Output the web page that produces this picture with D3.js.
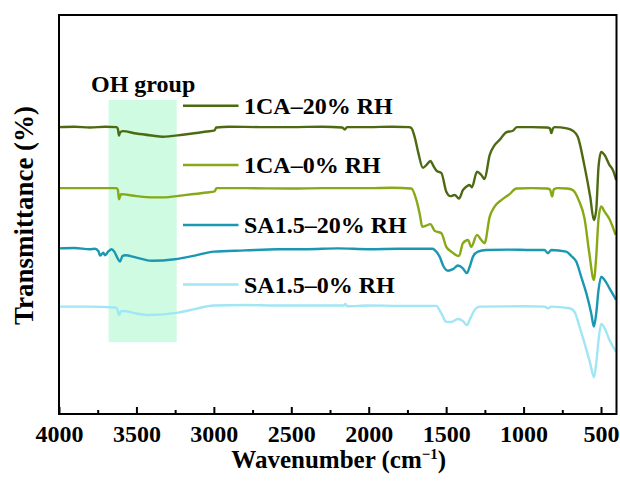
<!DOCTYPE html>
<html>
<head>
<meta charset="utf-8">
<script src="https://cdn.jsdelivr.net/npm/d3@7"></script>
<style>
  html, body { margin: 0; padding: 0; background: #fff; }
  svg { display: block; }
  text { font-family: "Liberation Serif", "Times New Roman", serif; font-weight: bold; fill: #000; }
</style>
</head>
<body>
<svg id="chart" width="620" height="482"></svg>
<script>
// ---------------- data ----------------
const seriesNames = ["1CA\u201320% RH", "1CA\u20130% RH", "SA1.5\u201320% RH", "SA1.5\u20130% RH"];
const seriesColors = ["#4d6a12", "#87a915", "#1a97b1", "#a0e6f4"];

const xMajorTicks = [4000, 3500, 3000, 2500, 2000, 1500, 1000, 500];
const xMinorTicks = [3750, 3250, 2750, 2250, 1750, 1250, 750];

const ohBand = [3680, 3240];      // wavenumber range of the OH group band
const ohBandT = [18, 78.7];       // vertical extent (transmittance units)

const s1 = [[4000,71.9],[3900,72.0],[3800,71.8],[3700,72.0],[3630,71.9],[3620,71.5],[3613,69.8],[3605,70.6],[3590,70.9],[3500,70.3],[3400,69.8],[3330,69.5],[3200,70.0],[3100,70.5],[3047,70.8],[2995,71.1],[2985,71.8],[2900,72.0],[2700,71.9],[2500,71.9],[2300,72.0],[2170,71.8],[2155,71.3],[2140,71.9],[2000,71.9],[1850,72.0],[1740,71.9],[1725,71.7],[1703,69.4],[1680,65.5],[1650,61.7],[1625,62.5],[1602,63.4],[1580,62.0],[1563,61.0],[1531,60.4],[1499,55.7],[1473,54.6],[1445,54.9],[1417,54.0],[1392,56.1],[1366,57.1],[1348,57.4],[1334,56.8],[1301,60.7],[1273,59.9],[1252,58.9],[1219,64.9],[1187,67.4],[1155,68.7],[1112,70.6],[1069,71.0],[1043,71.9],[950,71.9],[850,71.8],[830,71.6],[821,70.4],[810,71.6],[800,71.9],[720,71.6],[682,71.0],[650,69.5],[606,62.0],[570,54.5],[546,48.6],[531,51.1],[516,62.0],[499,65.7],[477,64.9],[445,62.4],[424,61.2],[402,58.6]];

const s2 = [[4000,56.6],[3800,56.6],[3630,56.6],[3620,56.2],[3613,53.8],[3600,55.1],[3500,54.6],[3400,54.3],[3330,54.3],[3200,54.8],[3047,55.5],[2995,55.8],[2983,56.6],[2800,56.6],[2500,56.5],[2300,56.6],[2000,56.6],[1850,56.7],[1725,56.5],[1692,53.6],[1670,50.0],[1654,46.9],[1630,47.2],[1602,47.6],[1574,45.9],[1531,45.3],[1499,41.9],[1467,40.7],[1417,39.6],[1392,42.8],[1359,43.6],[1338,41.9],[1301,44.9],[1273,43.6],[1252,42.8],[1219,49.4],[1187,52.0],[1144,53.6],[1090,55.1],[1047,56.5],[950,56.6],[850,56.5],[830,56.3],[815,54.5],[805,56.3],[780,56.6],[720,56.5],[682,56.1],[644,53.6],[606,48.9],[576,40.4],[546,33.6],[531,39.4],[516,48.9],[499,52.0],[477,50.7],[445,48.8],[406,44.9]];

const s3 = [[4000,41.5],[3900,41.6],[3800,41.3],[3768,41.4],[3745,40.8],[3735,39.7],[3714,40.4],[3703,39.8],[3680,40.8],[3660,41.3],[3643,40.7],[3621,39.0],[3606,38.2],[3590,39.6],[3574,39.8],[3500,39.2],[3402,38.4],[3252,38.8],[3123,39.7],[3000,40.7],[2800,41.0],[2587,41.3],[2400,41.3],[2200,41.5],[2000,41.3],[1800,41.4],[1590,41.4],[1574,41.1],[1542,39.4],[1516,36.9],[1488,35.9],[1456,36.3],[1424,37.2],[1392,36.5],[1366,35.3],[1348,36.9],[1327,39.4],[1295,40.7],[1241,41.1],[1100,41.2],[950,41.1],[865,41.1],[843,40.3],[821,41.1],[725,40.7],[692,39.6],[660,38.2],[628,34.4],[595,30.3],[563,25.2],[546,21.9],[531,25.2],[516,31.1],[499,34.4],[477,33.6],[445,31.5],[402,28.6]];

const s4 = [[4000,26.9],[3800,26.9],[3639,26.7],[3625,26.4],[3613,24.8],[3600,25.7],[3585,25.8],[3500,25.2],[3424,24.8],[3230,25.4],[3123,26.3],[3000,27.2],[2800,27.3],[2600,27.2],[2400,27.2],[2160,27.2],[2150,27.6],[2140,27.0],[2000,27.2],[1800,27.1],[1565,27.1],[1531,25.2],[1499,23.1],[1467,23.1],[1424,23.8],[1392,23.3],[1366,22.3],[1344,24.0],[1316,26.1],[1284,26.9],[1000,27.0],[865,26.9],[843,26.5],[821,26.9],[703,26.5],[671,25.6],[639,21.9],[606,17.7],[570,12.7],[546,9.2],[531,12.7],[516,18.5],[499,22.6],[477,21.5],[445,18.5],[402,15.6]];

const allSeries = [s1, s2, s3, s4];

// ---------------- layout ----------------
const svg = d3.select("#chart");
const L = 59, R = 616.5, T = 15, B = 414;

const x = d3.scaleLinear().domain([4000, 400]).range([L, R]);
const y = d3.scaleLinear().domain([0, 100]).range([B, T]);

// OH band
svg.append("rect")
  .attr("x", x(ohBand[0]))
  .attr("width", x(ohBand[1]) - x(ohBand[0]))
  .attr("y", y(ohBandT[1]))
  .attr("height", y(ohBandT[0]) - y(ohBandT[1]))
  .attr("fill", "#cffbe3");

svg.append("text")
  .attr("x", 91).attr("y", 92)
  .style("font-size", "24px")
  .text("OH group");

// lines
const line = d3.line()
  .x(d => x(d[0]))
  .y(d => y(d[1]))
  .curve(d3.curveMonotoneX);

allSeries.forEach((s, i) => {
  svg.append("path")
    .datum(s)
    .attr("d", line)
    .attr("fill", "none")
    .attr("stroke", seriesColors[i])
    .attr("stroke-width", 2.4)
    .attr("stroke-linejoin", "round");
});

// legend
const legendY = [105.7, 165, 225, 284.5];
seriesNames.forEach((n, i) => {
  svg.append("line")
    .attr("x1", 183).attr("x2", 238.5)
    .attr("y1", legendY[i]).attr("y2", legendY[i])
    .attr("stroke", seriesColors[i]).attr("stroke-width", 2.4);
  svg.append("text")
    .attr("x", 244).attr("y", legendY[i] + 8)
    .style("font-size", "24px")
    .text(n);
});

// axes
const xAxis = d3.axisBottom(x)
  .tickValues(xMajorTicks)
  .tickFormat(d3.format("d"))
  .tickSizeInner(-7).tickSizeOuter(0).tickPadding(11);

const gx = svg.append("g").attr("transform", `translate(0,${B})`).call(xAxis);
gx.select(".domain").remove();
gx.selectAll(".tick line").attr("stroke", "#000").attr("stroke-width", 2);
gx.selectAll(".tick text")
  .style("font-family", "'Liberation Serif', 'Times New Roman', serif")
  .style("font-weight", "bold")
  .style("font-size", "24px")
  .attr("fill", "#000");

const xMinor = d3.axisBottom(x)
  .tickValues(xMinorTicks)
  .tickFormat("")
  .tickSizeInner(-4).tickSizeOuter(0);
const gm = svg.append("g").attr("transform", `translate(0,${B})`).call(xMinor);
gm.select(".domain").remove();
gm.selectAll(".tick line").attr("stroke", "#000").attr("stroke-width", 2);

// frame
svg.append("rect")
  .attr("x", L).attr("y", T)
  .attr("width", R - L).attr("height", B - T)
  .attr("fill", "none").attr("stroke", "#000").attr("stroke-width", 2);

// axis titles
const xt = svg.append("text")
  .attr("x", (L + R) / 2 + 1).attr("y", 468)
  .attr("text-anchor", "middle")
  .style("font-size", "25px");
xt.append("tspan").text("Wavenumber (cm");
xt.append("tspan").attr("dy", -9).style("font-size", "15px").text("\u22121");
xt.append("tspan").attr("dy", 9).text(")");

svg.append("text")
  .attr("transform", `translate(33,${215.5}) rotate(-90)`)
  .attr("text-anchor", "middle")
  .style("font-size", "27px")
  .text("Transmittance (%)");
</script>
</body>
</html>
